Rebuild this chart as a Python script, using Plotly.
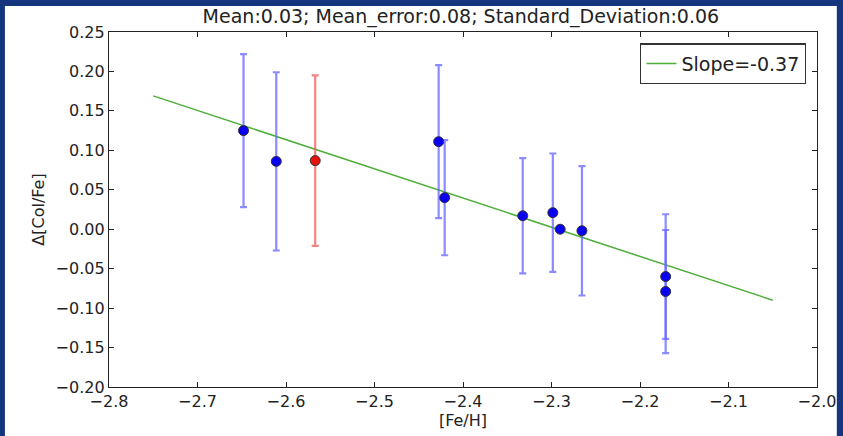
import plotly.graph_objects as go

# [Fe/H] and Δ[Col/Fe] for each star, with 1-sigma errors
fe_h = [-2.648, -2.611, -2.4275, -2.4207, -2.3325, -2.2985, -2.2902, -2.2656, -2.171, -2.171]
d_col = [0.125, 0.086, 0.111, 0.040, 0.017, 0.021, 0.000, -0.002, -0.060, -0.079]
d_err = [0.097, 0.113, 0.097, 0.073, 0.073, 0.075, 0.0, 0.082, 0.079, 0.078]

# flagged star
fe_h_flag = [-2.567]
d_col_flag = [0.087]
d_err_flag = [0.108]

# linear fit endpoints
fit_x = [-2.75, -2.05]
fit_y = [0.169, -0.090]
slope_label = "Slope=-0.37"

title_text = "Mean:0.03; Mean_error:0.08; Standard_Deviation:0.06"
x_ticks = [-2.8, -2.7, -2.6, -2.5, -2.4, -2.3, -2.2, -2.1, -2.0]
y_ticks = [-0.20, -0.15, -0.10, -0.05, 0.00, 0.05, 0.10, 0.15, 0.20, 0.25]

FONT = "DejaVu Sans"
INK = "#222222"

fig = go.Figure()

fig.add_trace(go.Scatter(
    x=fit_x, y=fit_y, mode="lines", name=slope_label,
    line=dict(color="#4daf3a", width=1.5),
))

fig.add_trace(go.Scatter(
    x=fe_h, y=d_col, mode="markers", showlegend=False,
    marker=dict(color="#0a00f0", size=10, line=dict(color="#333333", width=1)),
    error_y=dict(type="data", array=d_err, color="rgba(100,100,255,0.75)", thickness=2.2, width=3.5),
))

fig.add_trace(go.Scatter(
    x=fe_h_flag, y=d_col_flag, mode="markers", showlegend=False,
    marker=dict(color="#e8120c", size=10, line=dict(color="#333333", width=1)),
    error_y=dict(type="data", array=d_err_flag, color="rgba(240,90,90,0.75)", thickness=2.2, width=3.5),
))

axis_common = dict(
    showgrid=False, zeroline=False, showline=True, linecolor=INK, linewidth=1.4,
    mirror="allticks", ticks="inside", ticklen=5, tickcolor=INK, tickwidth=1,
    tickfont=dict(family=FONT, size=16, color=INK), automargin=False,
)

fig.update_xaxes(
    range=[-2.8, -2.0], tickvals=x_ticks, tickformat=".1f",
    title=dict(text="[Fe/H]", font=dict(family=FONT, size=16, color=INK), standoff=4),
    **axis_common,
)
fig.update_yaxes(
    range=[-0.20, 0.25], tickvals=y_ticks, tickformat=".2f",
    title=dict(text="Δ[Col/Fe]", font=dict(family=FONT, size=16, color=INK), standoff=6),
    **axis_common,
)

fig.update_layout(
    width=843, height=436,
    margin=dict(l=109, r=26, t=32, b=49, autoexpand=False),
    paper_bgcolor="#15357f",
    plot_bgcolor="white",
    title=dict(text=title_text, xref="paper", x=0.497, xanchor="center",
               yref="container", y=0.962, yanchor="middle",
               font=dict(family=FONT, size=19, color=INK), automargin=False),
    legend=dict(x=0.9845, y=0.968, xanchor="right", yanchor="top",
                bgcolor="white", bordercolor="#333333", borderwidth=1.4,
                font=dict(family=FONT, size=19, color=INK),
                itemwidth=30),
    shapes=[dict(type="rect", xref="paper", yref="paper", layer="below",
                 x0=-0.147, x1=1.028, y0=-0.2, y1=1.073,
                 fillcolor="white", line=dict(width=0))],
)

fig.write_html("out.html")
